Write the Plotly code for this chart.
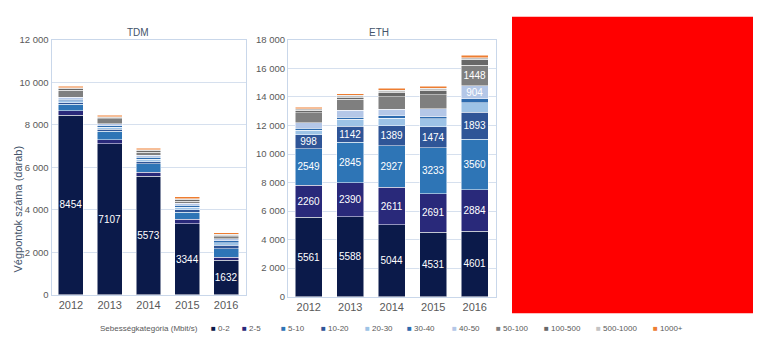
import plotly.graph_objects as go

W, H = 771, 354

years = ["2012", "2013", "2014", "2015", "2016"]
categories = ["0-2", "2-5", "5-10", "10-20", "20-30", "30-40", "40-50",
              "50-100", "100-500", "500-1000", "1000+"]

# TDM values per speed category (bottom to top)
tdm_0_2 = [8454, 7107, 5573, 3344, 1632]
tdm_2_5 = [200, 190, 190, 210, 130]
tdm_5_10 = [310, 410, 400, 330, 410]
tdm_10_20 = [70, 80, 110, 130, 150]
tdm_20_30 = [90, 100, 110, 110, 120]
tdm_30_40 = [90, 80, 90, 90, 90]
tdm_40_50 = [80, 90, 90, 100, 110]
tdm_50_100 = [340, 220, 150, 100, 100]
tdm_100_500 = [60, 60, 60, 60, 60]
tdm_500_1000 = [50, 50, 50, 50, 50]
tdm_1000p = [80, 70, 70, 80, 70]

# ETH values per speed category (bottom to top)
eth_0_2 = [5561, 5588, 5044, 4531, 4601]
eth_2_5 = [2260, 2390, 2611, 2691, 2884]
eth_5_10 = [2549, 2845, 2927, 3233, 3560]
eth_10_20 = [998, 1142, 1389, 1474, 1893]
eth_20_30 = [300, 480, 530, 540, 660]
eth_30_40 = [130, 140, 180, 150, 280]
eth_40_50 = [400, 500, 460, 540, 904]
eth_50_100 = [680, 740, 880, 980, 1448]
eth_100_500 = [160, 140, 300, 340, 380]
eth_500_1000 = [130, 140, 160, 150, 150]
eth_1000p = [120, 130, 130, 140, 160]

tdm_series = [tdm_0_2, tdm_2_5, tdm_5_10, tdm_10_20, tdm_20_30, tdm_30_40,
              tdm_40_50, tdm_50_100, tdm_100_500, tdm_500_1000, tdm_1000p]
eth_series = [eth_0_2, eth_2_5, eth_5_10, eth_10_20, eth_20_30, eth_30_40,
              eth_40_50, eth_50_100, eth_100_500, eth_500_1000, eth_1000p]

# which segments carry a value label
tdm_labeled = {"0-2": years}
eth_labeled = {"0-2": years, "2-5": years, "5-10": years, "10-20": years,
               "40-50": ["2016"], "50-100": ["2016"]}

colors = ["#0B1A4A", "#29297A", "#2E75B6", "#2F5597", "#9DC3E6", "#2C6BAF",
          "#B4C7E7", "#7F7F7F", "#686868", "#C3C3C3", "#ED7D31"]

FONT = "Liberation Sans, Arial, sans-serif"
GRAY = "#595959"


def px(x):
    return x / W


def py(y):
    return 1 - y / H


fig = go.Figure()

for axes, series, labeled in (("x", tdm_series, tdm_labeled), ("x2", eth_series, eth_labeled)):
    ya = "y" if axes == "x" else "y2"
    for cat, vals, col in zip(categories, series, colors):
        shown = labeled.get(cat, [])
        fig.add_trace(go.Bar(
            x=years, y=vals, name=cat,
            marker=dict(color=col, line=dict(color="white", width=0.5)),
            text=[str(v) if yr in shown else "" for yr, v in zip(years, vals)],
            textposition="inside", insidetextanchor="middle", textangle=0,
            constraintext="none", textfont=dict(color="white", size=10, family=FONT),
            xaxis=axes, yaxis=ya, showlegend=False, hoverinfo="x+y+name"))

axis_common = dict(showline=True, mirror=True, linecolor="#C9D7EA", linewidth=1,
                   ticks="", tickfont=dict(size=9.5, color=GRAY, family=FONT),
                   fixedrange=True)
xtick = dict(size=11, color=GRAY, family=FONT)

fig.update_layout(
    width=W, height=H,
    margin=dict(l=0, r=0, t=0, b=0),
    paper_bgcolor="white", plot_bgcolor="white",
    barmode="stack", bargap=0.36,
    separators=", ",
    font=dict(family=FONT, color=GRAY),
    xaxis=dict(domain=[px(51.5), px(245.5)], type="category", anchor="y",
               showgrid=False, **{**axis_common, "tickfont": xtick}),
    yaxis=dict(domain=[py(298), py(35)], range=[0, 12000], dtick=2000, tickformat=",d",
               anchor="x", showgrid=True, gridcolor="#D6E0EE", gridwidth=1, **axis_common),
    xaxis2=dict(domain=[px(288), px(495.5)], type="category", anchor="y2",
                showgrid=False, **{**axis_common, "tickfont": xtick}),
    yaxis2=dict(domain=[py(300), py(35)], range=[0, 18000], dtick=2000, tickformat=",d",
                anchor="x2", showgrid=True, gridcolor="#D6E0EE", gridwidth=1, **axis_common),
)

annotations = [
    dict(text="TDM", x=px(125), y=py(20), showarrow=False, xref="paper", yref="paper",
         font=dict(size=10, color="#44546A", family=FONT)),
    dict(text="ETH", x=px(379), y=py(20), showarrow=False, xref="paper", yref="paper",
         font=dict(size=10, color="#44546A", family=FONT)),
    dict(text="Végpontok száma (darab)", x=px(10), y=py(210), textangle=-90, showarrow=False,
         xref="paper", yref="paper", font=dict(size=11, color="#44546A", family=FONT)),
    dict(text="Sebességkategória (Mbit/s)", x=px(200), y=py(340), xanchor="right",
         showarrow=False, xref="paper", yref="paper",
         font=dict(size=8, color=GRAY, family=FONT)),
]

legend_x = [209, 240, 279, 319, 363, 405, 450, 494, 542, 594, 651]
for cat, col, lx in zip(categories, colors, legend_x):
    annotations.append(dict(
        text=f"<span style='color:{col}'>■</span> {cat}", x=px(lx), y=py(340),
        xanchor="left", showarrow=False, xref="paper", yref="paper",
        font=dict(size=8, color=GRAY, family=FONT)))

fig.update_layout(annotations=annotations)

fig.add_shape(type="rect", xref="paper", yref="paper",
              x0=px(512), x1=px(753), y0=py(317), y1=py(11),
              fillcolor="#FF0000", line=dict(width=0), layer="above")

fig.write_html("out.html")
